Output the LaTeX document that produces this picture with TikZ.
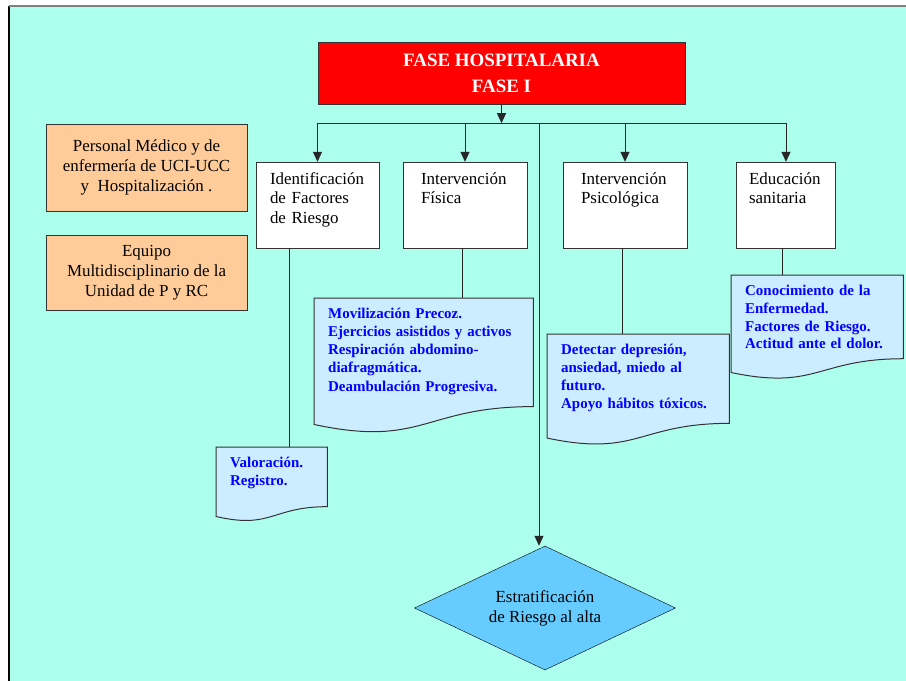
\documentclass[tikz,border=0pt]{standalone}
\usepackage{fontspec}
\setmainfont{Liberation Serif}
\usetikzlibrary{shapes.geometric, arrows.meta, calc, backgrounds}
\definecolor{fondo}{RGB}{173,255,237}
\definecolor{naranja}{RGB}{255,204,153}
\definecolor{celeste}{RGB}{204,236,255}
\definecolor{rombo}{RGB}{102,204,255}
\definecolor{borde}{RGB}{51,51,51}
\tikzstyle{titulo} = [rectangle, minimum width=367bp, minimum height=62bp,
draw=borde, fill=red, text=white, align=center,
font=\fontsize{19}{26}\selectfont\bfseries]
\tikzstyle{equipo} = [rectangle, minimum width=201bp, draw=borde,
fill=naranja, align=center, font=\fontsize{17}{20}\selectfont]
\tikzstyle{process} = [rectangle, draw=borde, fill=white, inner sep=0pt,
text height=22bp, text depth=64bp, align=left, font=\fontsize{17}{20}\selectfont]
\tikzstyle{doc} = [rectangle, anchor=north west, inner xsep=14bp,
inner ysep=0pt, text height=20bp, align=left, text=blue,
font=\fontsize{15}{18}\selectfont\bfseries]
\tikzstyle{decision} = [diamond, minimum width=261bp, minimum height=124bp,
inner sep=0pt, aspect=2.1, draw=black, fill=rombo, align=center,
font=\fontsize{17}{20}\selectfont]
\tikzstyle{conector} = [line width=1bp, draw=black!85]
\tikzstyle{arrow} = [conector, -{Triangle[length=10bp,width=9bp]}]

% hoja con borde inferior ondulado, detras del texto
\newcommand{\docfondo}[1]{%
\begin{pgfonlayer}{background}
\filldraw[fill=celeste, draw=borde, line width=1bp] (#1.north west) --
(#1.north east) -- ($(#1.north east)!0.802!(#1.south east)$)
.. controls ($(#1.north)!0.802!(#1.south)$) and ($(#1.north)!1.1075!(#1.south)$)
.. ($(#1.north west)!0.934!(#1.south west)$) -- cycle;
\end{pgfonlayer}}

\begin{document}
\begin{tikzpicture}[x=1bp, y=-1bp, node distance=132bp]
\useasboundingbox (0,0) rectangle (906,681);
\begin{pgfonlayer}{background}
\fill[fondo] (9,6) rectangle (906,681);
\draw[black, line width=1.5bp] (9,681) -- (9,6);
\draw[gray, line width=1.5bp] (9,6) -- (906,6);
\end{pgfonlayer}

\node(fase)[titulo] at (501.5,73) {FASE HOSPITALARIA\\FASE I};
\node(ident)[process, below of=fase, xshift=-184bp, text width=95bp,
minimum width=123bp]{Identificación\\de Factores\\de Riesgo};
\node(fisica)[process, below of=fase, xshift=-36.5bp, text width=88bp,
minimum width=124bp]{Intervención\\Física};
\node(psico)[process, below of=fase, xshift=123.5bp, text width=88bp,
minimum width=124bp]{Intervención\\Psicológica};
\node(educ)[process, below of=fase, xshift=284.5bp, text width=74bp,
minimum width=99bp]{Educación\\sanitaria};

\node(personal)[equipo, minimum height=87bp] at (146.5,167.5)
{Personal Médico y de\\enfermería de UCI-UCC\\y \ Hospitalización .};
\node(multi)[equipo, below of=personal, node distance=105bp,
minimum height=75bp]{Equipo\\Multidisciplinario de la\\Unidad de P y RC};

\node(valor)[doc, text width=83bp, text depth=54bp] at (216,447)
{Valoración.\\Registro.};
\node(movil)[doc, text width=191bp, text depth=115bp] at (314,298)
{Movilización Precoz.\\Ejercicios asistidos y activos\\Respiración abdomino-\\diafragmática.\\[2bp]Deambulación Progresiva.};
\node(detect)[doc, text width=154bp, text depth=91bp] at (547,334)
{Detectar depresión,\\ansiedad, miedo al\\futuro.\\Apoyo hábitos tóxicos.};
\node(conoc)[doc, text width=144bp, text depth=84bp] at (731,275)
{Conocimiento de la\\Enfermedad.\\Factores de Riesgo.\\Actitud ante el dolor.};
\docfondo{valor}
\docfondo{movil}
\docfondo{detect}
\docfondo{conoc}

\node(riesgo)[decision] at (545,608) {Estratificación\\de Riesgo al alta};

\coordinate (bus) at ([yshift=-19bp]fase.south);
\coordinate (stem) at ([xshift=37.5bp]bus);
\draw[arrow](fase) -- (bus);
\draw[conector](ident.north |- bus) -- (educ.north |- bus);
\foreach \n in {ident, fisica, psico, educ}
\draw[arrow](\n.north |- bus) -- (\n);
\draw[arrow](stem) -- (stem |- riesgo.north);

\draw[conector]([xshift=-28.5bp]ident.south) --
([xshift=-28.5bp]ident.south |- valor.north);
\draw[conector]([xshift=-3bp]fisica.south) --
([xshift=-3bp]fisica.south |- movil.north);
\draw[conector]([xshift=-3bp]psico.south) --
([xshift=-3bp]psico.south |- detect.north);
\draw[conector]([xshift=-4bp]educ.south) --
([xshift=-4bp]educ.south |- conoc.north);

\end{tikzpicture}
\end{document}
